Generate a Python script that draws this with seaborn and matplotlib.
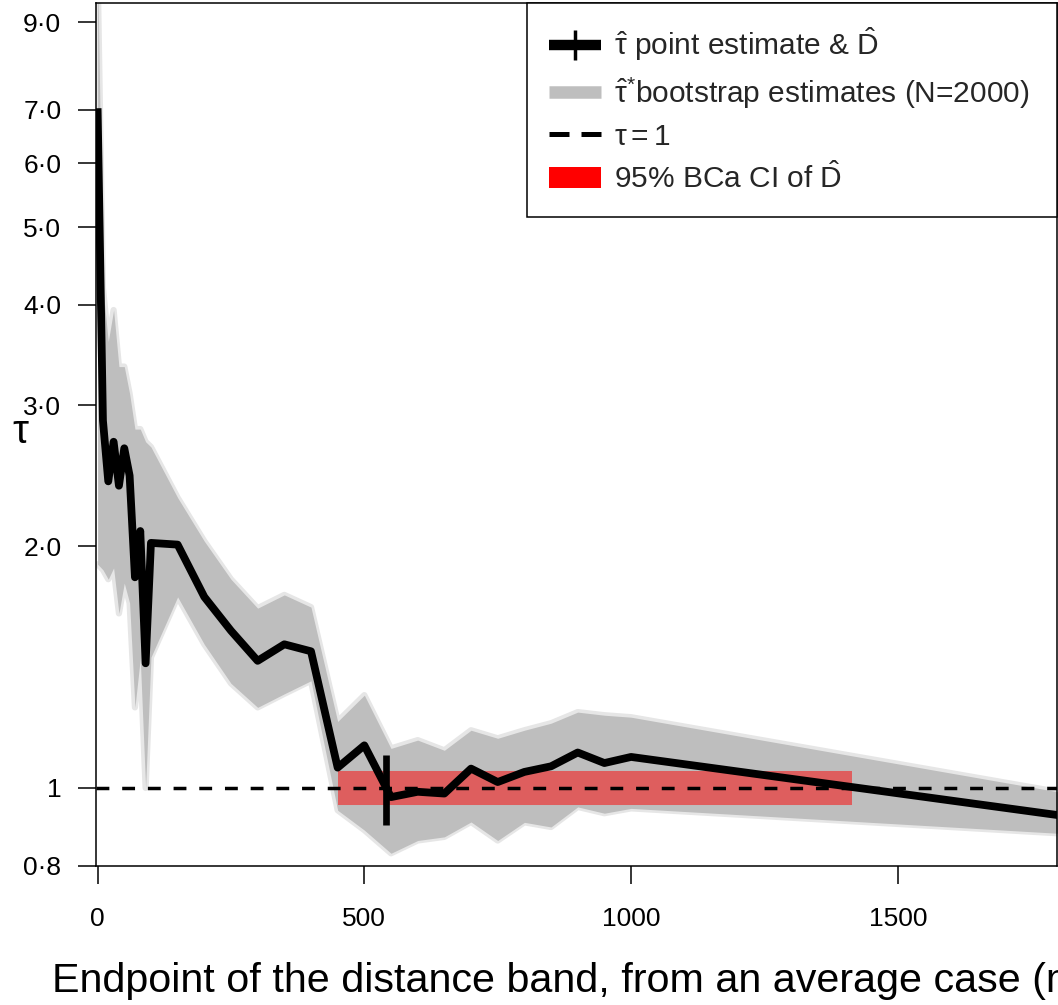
import numpy as np
import pandas as pd
import matplotlib
matplotlib.use('Agg')
import matplotlib.pyplot as plt
import seaborn as sns
from matplotlib.lines import Line2D
from matplotlib.patches import Patch
from matplotlib.ticker import NullLocator

# distance band endpoints and estimates
dist = [0, 10, 20, 30, 40, 50, 60, 70, 80, 90, 100, 150, 200, 250, 300, 350, 400,
        450, 500, 550, 600, 650, 700, 750, 800, 850, 900, 950, 1000, 1800]
tau_hat = [7.03, 2.87, 2.41, 2.70, 2.38, 2.65, 2.45, 1.83, 2.09, 1.43, 2.02, 2.01, 1.73,
           1.57, 1.44, 1.51, 1.48, 1.06, 1.13, 0.974, 0.989, 0.984, 1.057, 1.017, 1.047,
           1.064, 1.107, 1.074, 1.093, 0.925]
boot_upper = [10.5, 4.2, 3.6, 3.94, 3.35, 3.35, 3.1, 2.8, 2.8, 2.7, 2.66, 2.30, 2.03,
              1.82, 1.675, 1.74, 1.68, 1.21, 1.305, 1.12, 1.147, 1.114, 1.18, 1.153, 1.18,
              1.204, 1.243, 1.232, 1.225, 0.989]
boot_lower = [1.9, 1.87, 1.82, 1.88, 1.65, 1.8, 1.7, 1.26, 1.45, 1.0, 1.455, 1.73, 1.51,
              1.35, 1.26, 1.31, 1.36, 0.938, 0.886, 0.829, 0.86, 0.869, 0.907, 0.86, 0.906,
              0.894, 0.947, 0.93, 0.943, 0.878]
d_hat = 540
ci_lower = 450
ci_upper = 1414

xtick_vals = [0, 500, 1000, 1500]
ytick_vals = [0.8, 1, 2, 3, 4, 5, 6, 7, 9]
ytick_labels = ['0·8', '1', '2·0', '3·0', '4·0', '5·0', '6·0', '7·0', '9·0']

legend_labels = [r'$\hat{\mathrm{\tau}}$ point estimate & $\hat{\mathrm{D}}$',
                 r'$\hat{\mathrm{\tau}}^{*}$bootstrap estimates (N=2000)',
                 r'$\mathrm{\tau} = 1$',
                 r'95% BCa CI of $\hat{\mathrm{D}}$']

sns.set_theme(style='ticks')
plt.rcParams['font.family'] = ['Liberation Sans', 'DejaVu Sans']
plt.rcParams['mathtext.fontset'] = 'custom'
plt.rcParams['mathtext.rm'] = 'Liberation Sans'
plt.rcParams['mathtext.it'] = 'Liberation Sans:italic'
plt.rcParams['mathtext.bf'] = 'Liberation Sans:bold'

df = pd.DataFrame({'dist': dist, 'tau': tau_hat, 'lo': boot_lower, 'hi': boot_upper})

fig = plt.figure(figsize=(10.58, 10.05), dpi=100)
ax = fig.add_axes([96 / 1058, 1 - 865.7 / 1005, 961.3 / 1058, 862.4 / 1005])
ax.set_yscale('log')

# bootstrap cloud: light fringe + solid core
ax.plot(df.dist, df.hi, color='#E6E6E6', lw=4.5, zorder=1)
ax.plot(df.dist, df.lo, color='#E6E6E6', lw=4.5, zorder=1)
ax.fill_between(df.dist, df.lo, df.hi, color='#BEBEBE', lw=0, zorder=2)

# CI of D-hat
ax.plot([ci_lower, ci_upper], [1, 1], color='red', alpha=0.5, lw=24.5,
        solid_capstyle='butt', zorder=3)
ax.axhline(1, color='black', lw=2.5, dashes=(3.7, 3.7), zorder=4)

sns.lineplot(data=df, x='dist', y='tau', color='black', lw=5.6, ax=ax, zorder=5,
             solid_joinstyle='round', solid_capstyle='butt')
ax.plot([d_hat, d_hat], [0.9, 1.1], color='black', lw=4.8, solid_capstyle='butt', zorder=6)

ax.set_xlim(-3, 1799)
ax.set_ylim(0.8, 9.5)
ax.set_xticks(xtick_vals)
ax.set_yticks(ytick_vals, ytick_labels)
ax.yaxis.set_minor_locator(NullLocator())

ax.tick_params(axis='both', length=13, width=1.1, color='black', labelsize=19,
               labelcolor='black', direction='out')
ax.tick_params(axis='y', pad=12)
ax.tick_params(axis='x', pad=17)
for sp in ax.spines.values():
    sp.set_visible(True)
    sp.set_color('black')
    sp.set_linewidth(1.1)

ax.set_xlabel('Endpoint of the distance band, from an average case (m)', fontsize=29.7,
              ha='left', va='baseline', color='black')
ax.xaxis.set_label_coords(-0.0458, -0.1465)
ax.set_ylabel('τ', rotation=0, fontsize=29, ha='center', va='center', color='black')
ax.yaxis.set_label_coords(-0.079, 0.503)

handles = [Line2D([], [], color='black', lw=7.5, marker='|', markersize=22, mew=2.5,
                  solid_capstyle='butt'),
           Line2D([], [], color='#BEBEBE', lw=9, solid_capstyle='butt'),
           Line2D([], [], color='black', lw=3.6, dashes=(4, 2.4)),
           Patch(facecolor='red', edgecolor='none')]
leg = ax.legend(handles, legend_labels, loc='upper right', mode='expand',
                bbox_to_anchor=(0.4484, 0, 0.5516, 1), borderaxespad=0,
                fontsize=21.5, handlelength=1.74, handletextpad=0.43, borderpad=0.75,
                labelspacing=0.4, fancybox=False, framealpha=1, frameon=True)
leg.get_frame().set_edgecolor('black')
leg.get_frame().set_linewidth(1.1)
leg.set_zorder(10)

fig.savefig('out.png', dpi=100)
